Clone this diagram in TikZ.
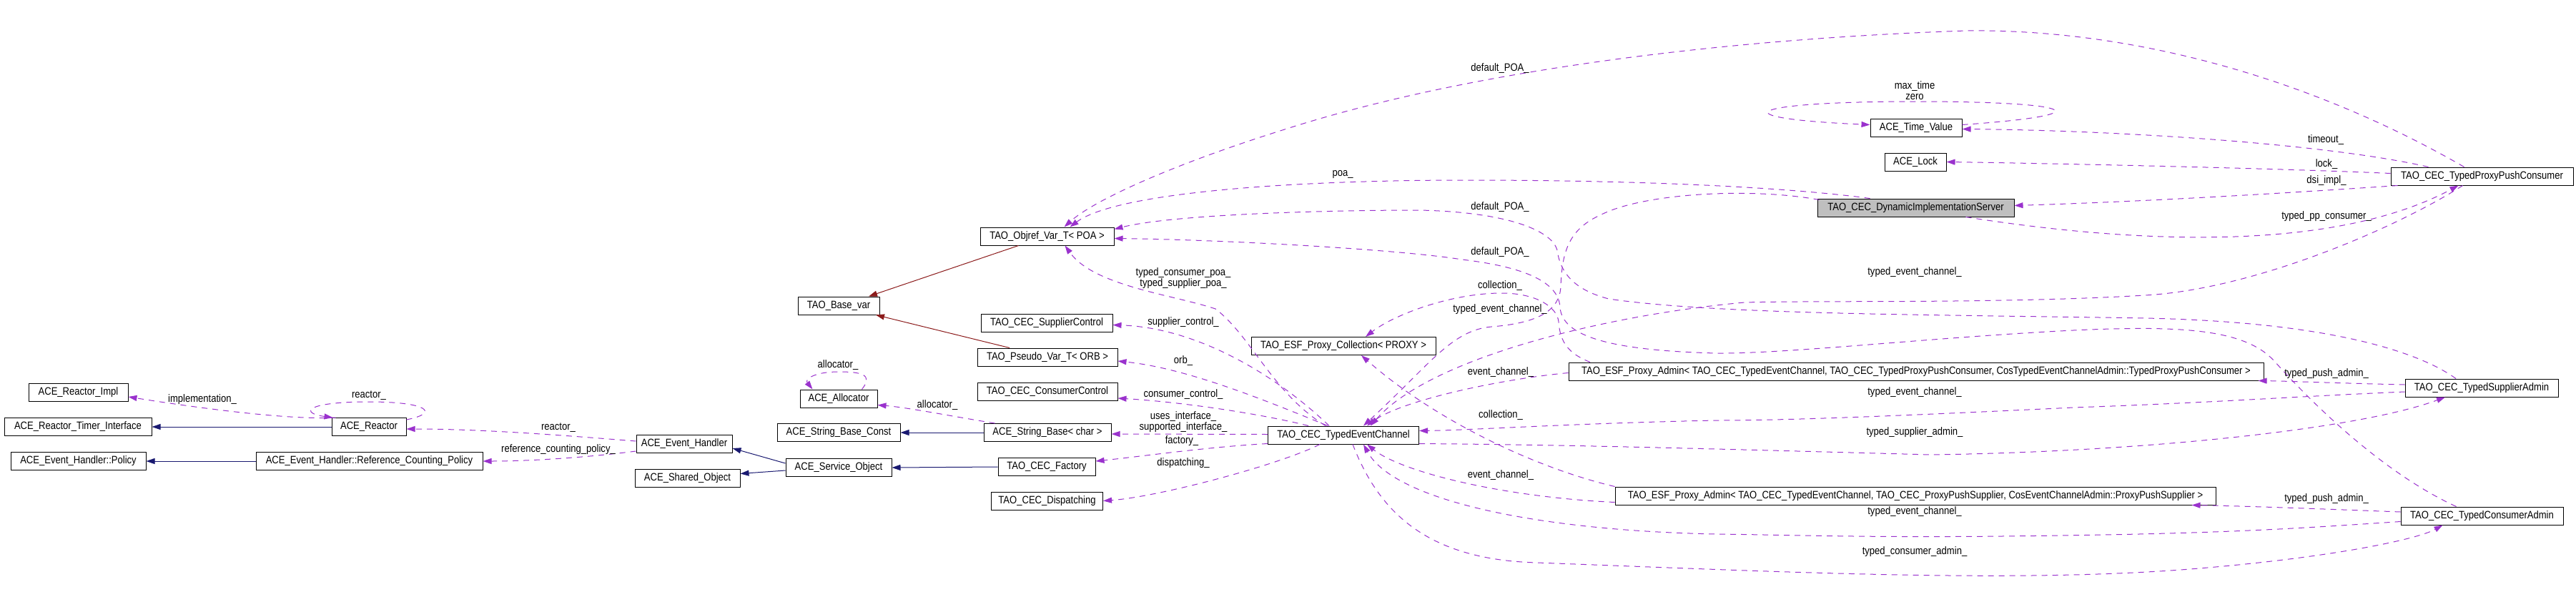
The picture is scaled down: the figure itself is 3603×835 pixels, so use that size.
\documentclass[tikz,border=0pt]{standalone}
\usepackage{fontspec}
\setmainfont{Liberation Sans}[FakeStretch=0.87]
\usetikzlibrary{arrows.meta}
\definecolor{depc}{HTML}{9A32CD}
\definecolor{pubc}{HTML}{191970}
\definecolor{privc}{HTML}{8B1A1A}
\definecolor{selc}{HTML}{BFBFBF}
\newcommand\lab{\fontsize{15}{15}\selectfont}
\tikzset{
  cls/.style={draw=black, line width=1pt, fill=white, minimum height=25pt, inner sep=0pt, font=\lab},
  dep/.style={draw=depc, line width=1pt, dash pattern=on 8pt off 7pt, -{Triangle[length=12pt,width=8pt,fill=depc]}},
  pub/.style={draw=pubc, line width=1pt, -{Triangle[length=12pt,width=8pt,fill=pubc]}},
  priv/.style={draw=privc, line width=1pt, -{Triangle[length=12pt,width=8pt,fill=privc]}},
  lbl/.style={font=\lab, inner sep=0pt, text=black, align=center}
}
\begin{document}
\begin{tikzpicture}[x=1pt,y=-1pt]
\useasboundingbox (0,0) rectangle (3603,835);
% ---------- nodes ----------
\node[cls, minimum width=139pt] (reactorimpl) at (109.5,549) {ACE\_Reactor\_Impl};
\node[cls, minimum width=206pt] (timerif) at (109,597) {ACE\_Reactor\_Timer\_Interface};
\node[cls, minimum width=104pt] (reactor) at (516,597) {ACE\_Reactor};
\node[cls, minimum width=189pt] (ehpolicy) at (109.5,645) {ACE\_Event\_Handler::Policy};
\node[cls, minimum width=317pt] (rcpolicy) at (516.5,645) {ACE\_Event\_Handler::Reference\_Counting\_Policy};
\node[cls, minimum width=134pt] (eh) at (957,621) {ACE\_Event\_Handler};
\node[cls, minimum width=147pt] (sharedobj) at (961.5,668.5) {ACE\_Shared\_Object};
\node[cls, minimum width=148pt] (serviceobj) at (1173,654) {ACE\_Service\_Object};
\node[cls, minimum width=108pt] (allocator) at (1173,557.5) {ACE\_Allocator};
\node[cls, minimum width=172pt] (sbconst) at (1173,605) {ACE\_String\_Base\_Const};
\node[cls, minimum width=114pt] (basevar) at (1173,427.5) {TAO\_Base\_var};
\node[cls, minimum width=187pt] (objref) at (1464.5,330.5) {TAO\_Objref\_Var\_T< POA >};
\node[cls, minimum width=184pt] (supctrl) at (1464,451.5) {TAO\_CEC\_SupplierControl};
\node[cls, minimum width=196pt] (pseudo) at (1465,499.5) {TAO\_Pseudo\_Var\_T< ORB >};
\node[cls, minimum width=196pt] (conctrl) at (1465,547.5) {TAO\_CEC\_ConsumerControl};
\node[cls, minimum width=178pt] (sbchar) at (1465,605) {ACE\_String\_Base< char >};
\node[cls, minimum width=136pt] (factory) at (1464,653) {TAO\_CEC\_Factory};
\node[cls, minimum width=156pt] (dispatching) at (1464.5,700.5) {TAO\_CEC\_Dispatching};
\node[cls, minimum width=258pt] (collection) at (1879,484) {TAO\_ESF\_Proxy\_Collection< PROXY >};
\node[cls, minimum width=211pt] (tec) at (1879,608.5) {TAO\_CEC\_TypedEventChannel};
\node[cls, minimum width=972pt] (esfcons) at (2680,519.5) {TAO\_ESF\_Proxy\_Admin< TAO\_CEC\_TypedEventChannel, TAO\_CEC\_TypedProxyPushConsumer, CosTypedEventChannelAdmin::TypedProxyPushConsumer >};
\node[cls, minimum width=840pt] (esfsupp) at (2679,693.5) {TAO\_ESF\_Proxy\_Admin< TAO\_CEC\_TypedEventChannel, TAO\_CEC\_ProxyPushSupplier, CosEventChannelAdmin::ProxyPushSupplier >};
\node[cls, minimum width=128pt] (timevalue) at (2680,178.5) {ACE\_Time\_Value};
\node[cls, minimum width=86pt] (lock) at (2679,226.5) {ACE\_Lock};
\node[cls, fill=selc, minimum width=275pt] (dsi) at (2679.5,290.5) {TAO\_CEC\_DynamicImplementationServer};
\node[cls, minimum width=255pt] (tppc) at (3471.5,246.5) {TAO\_CEC\_TypedProxyPushConsumer};
\node[cls, minimum width=214pt] (supadmin) at (3471,542.5) {TAO\_CEC\_TypedSupplierAdmin};
\node[cls, minimum width=227pt] (conadmin) at (3471.5,721.5) {TAO\_CEC\_TypedConsumerAdmin};
% ---------- inheritance ----------
\draw[pub] (reactor.west) -- (timerif.east);
\draw[pub] (rcpolicy.west) -- (ehpolicy.east);
\draw[pub] ([yshift=6pt]serviceobj.west) -- ([yshift=-6pt]eh.east);
\draw[pub] ([yshift=-4pt]serviceobj.west) -- ([yshift=6pt]sharedobj.east);
\draw[pub] (sbchar.west) -- (sbconst.east);
\draw[pub] (factory.west) -- (serviceobj.east);
\draw[priv] ([xshift=-40pt]objref.south) -- ([xshift=42pt]basevar.north);
\draw[priv] ([xshift=-53pt]pseudo.north) -- ([xshift=52pt]basevar.south);
% ---------- left usage ----------
\draw[dep] ([xshift=6pt]reactor.north west) .. controls (400,588) and (260,568) .. ([yshift=-6pt]reactorimpl.east);
\node[lbl] at (283,559) {implementation\_};
\draw[dep] ([yshift=-3pt]reactor.north east) .. controls (615,578) and (600,562) .. (516,562) .. controls (425,562) and (420,578) .. ([xshift=2pt]reactor.north west);
\node[lbl] at (516,553) {reactor\_};
\draw[dep] ([yshift=4pt]eh.west) .. controls (800,610) and (680,600) .. ([yshift=-3pt]reactor.east);
\node[lbl] at (781,598) {reactor\_};
\draw[dep] ([yshift=-10pt]eh.west) .. controls (820,640) and (740,645) .. (rcpolicy.east);
\node[lbl] at (781,629) {reference\_counting\_policy\_};
\draw[dep] ([xshift=-22pt]allocator.north east) .. controls (1222,524) and (1205,520) .. (1173,520) .. controls (1140,520) and (1125,530) .. ([xshift=18pt]allocator.north west);
\node[lbl] at (1172,511) {allocator\_};
\draw[dep] ([xshift=16pt]sbchar.north west) .. controls (1330,582) and (1270,570) .. ([yshift=-9pt]allocator.east);
\node[lbl] at (1311,567) {allocator\_};
% ---------- TEC usage (left) ----------
\draw[dep] ([xshift=-25pt]tec.north) .. controls (1780,550) and (1750,470) .. (1700,432) .. controls (1640,412) and (1530,400) .. ([xshift=25pt]objref.south);
\node[lbl] at (1655,389) {typed\_consumer\_poa\_\\typed\_supplier\_poa\_};
\draw[dep] ([xshift=-20pt]tec.north) .. controls (1780,520) and (1670,458) .. ([yshift=-3pt]supctrl.east);
\node[lbl] at (1655,451) {supplier\_control\_};
\draw[dep] ([xshift=-22pt]tec.north) .. controls (1770,560) and (1660,515) .. ([yshift=-5.5pt]pseudo.east);
\node[lbl] at (1655,505) {orb\_};
\draw[dep] ([xshift=-49pt]tec.north) .. controls (1760,578) and (1650,562) .. ([yshift=-9.5pt]conctrl.east);
\node[lbl] at (1655,552) {consumer\_control\_};
\draw[dep] ([yshift=1pt]tec.west) -- ([yshift=-2pt]sbchar.east);
\node[lbl] at (1655,590) {uses\_interface\_\\supported\_interface\_};
\draw[dep] ([yshift=-12pt]tec.west) .. controls (1690,625) and (1600,638) .. ([yshift=8pt]factory.east);
\node[lbl] at (1653,617) {factory\_};
\draw[dep] ([xshift=-33pt]tec.south) .. controls (1790,650) and (1620,695) .. (dispatching.east);
\node[lbl] at (1655,648) {dispatching\_};
% ---------- POA edges ----------
\draw[dep] ([xshift=-64pt]dsi.north) .. controls (2500,262) and (2300,252) .. (2050,252) .. controls (1800,252) and (1560,270) .. ([xshift=32pt]objref.north);
\node[lbl] at (1878,244) {poa\_};
\draw[dep] ([xshift=-25pt]tppc.north) .. controls (3250,120) and (3000,40) .. (2750,43) .. controls (2400,55) and (2050,100) .. (1800,180) .. controls (1640,230) and (1530,280) .. ([xshift=24pt]objref.north);
\node[lbl] at (2098,96) {default\_POA\_};
\draw[dep] ([xshift=-36pt]supadmin.north) .. controls (3380,490) and (3250,450) .. (3000,445) .. controls (2700,440) and (2400,440) .. (2250,418) .. controls (2200,405) and (2182,380) .. (2178,350) .. controls (2170,320) and (2100,296) .. (1984,294) .. controls (1850,294) and (1640,300) .. ([yshift=10pt]objref.east);
\node[lbl] at (2098,290) {default\_POA\_};
\draw[dep] ([xshift=-36pt]conadmin.north) .. controls (3330,660) and (3230,560) .. (3181,505) .. controls (3140,460) and (3050,455) .. (2900,462) .. controls (2700,472) and (2500,495) .. (2400,494) .. controls (2250,490) and (2185,470) .. (2182,430) .. controls (2180,390) and (2120,372) .. (2045,363) .. controls (1950,348) and (1700,335) .. ([yshift=-3pt]objref.east);
\node[lbl] at (2098,353) {default\_POA\_};
% ---------- collection / event channel ----------
\draw[dep] ([xshift=-456pt]esfcons.north) .. controls (2195,495) and (2182,480) .. (2180,450) .. controls (2178,430) and (2150,410) .. (2100,410) .. controls (2030,410) and (1950,440) .. ([xshift=31pt]collection.north);
\node[lbl] at (2098,400) {collection\_};
\draw[dep] ([xshift=3pt,yshift=-2pt]dsi.north west) .. controls (2450,262) and (2300,270) .. (2240,300) .. controls (2195,320) and (2185,350) .. (2183,400) .. controls (2182,435) and (2150,452) .. (2086,457) .. controls (2030,462) and (2000,510) .. ([xshift=28pt]tec.north);
\node[lbl] at (2098,433) {typed\_event\_channel\_};
\draw[dep] ([xshift=-27pt]tppc.south) .. controls (3350,320) and (3150,405) .. (3000,413) .. controls (2800,425) and (2550,420) .. (2440,423) .. controls (2250,440) and (2000,500) .. ([xshift=38pt]tec.north);
\node[lbl] at (2678,381) {typed\_event\_channel\_};
\draw[dep] ([yshift=-2pt]esfcons.west) .. controls (2100,530) and (1960,560) .. ([xshift=33pt]tec.north);
\node[lbl] at (2099,521) {event\_channel\_};
\draw[dep] (esfsupp.north west) .. controls (2150,655) and (2010,590) .. ([xshift=25pt]collection.south);
\node[lbl] at (2099,581) {collection\_};
\draw[dep] ([yshift=-9pt]esfsupp.west) .. controls (2100,695) and (1960,660) .. ([xshift=33pt]tec.south);
\node[lbl] at (2099,665) {event\_channel\_};
% ---------- TPPC ----------
\draw[dep] ([xshift=-75pt]tppc.north) .. controls (3250,200) and (2950,182) .. ([yshift=-2pt]timevalue.east);
\node[lbl] at (3253,196) {timeout\_};
\draw[dep] ([yshift=4pt]tppc.west) .. controls (3200,236) and (2900,229) .. (lock.east);
\node[lbl] at (3254,230) {lock\_};
\draw[dep] ([xshift=10pt]tppc.south west) .. controls (3200,270) and (3000,282) .. ([yshift=3pt]dsi.east);
\node[lbl] at (3254,253) {dsi\_impl\_};
\draw[dep] ([xshift=70pt]dsi.south) .. controls (2950,335) and (3250,360) .. ([xshift=-33pt]tppc.south);
\node[lbl] at (3254,303) {typed\_pp\_consumer\_};
\draw[dep] ([yshift=4pt]timevalue.east) .. controls (2950,160) and (2900,142) .. (2680,142) .. controls (2440,142) and (2400,165) .. ([yshift=4pt]timevalue.west);
\node[lbl] at (2678,127) {max\_time\\zero};
% ---------- admins ----------
\draw[dep] ([yshift=-5.5pt]supadmin.west) .. controls (3200,555) and (3100,563) .. (2900,570) .. controls (2650,582) and (2500,588) .. (2400,588) .. controls (2200,592) and (2050,602) .. ([yshift=6pt]tec.east);
\node[lbl] at (2678,549) {typed\_event\_channel\_};
\draw[dep] ([yshift=-12pt]tec.east) .. controls (2200,622) and (2400,628) .. (2700,636) .. controls (3000,632) and (3300,600) .. ([xshift=-51pt]supadmin.south);
\node[lbl] at (2678,605) {typed\_supplier\_admin\_};
\draw[dep] ([yshift=4.5pt]supadmin.west) .. controls (3270,536) and (3200,533) .. ([xshift=-8pt]esfcons.south east);
\node[lbl] at (3254,523) {typed\_push\_admin\_};
\draw[dep] ([yshift=-8pt]conadmin.west) .. controls (3200,740) and (3100,747) .. (2800,750) .. controls (2600,752) and (2500,748) .. (2400,747) .. controls (2150,742) and (1950,700) .. ([xshift=28pt]tec.south);
\node[lbl] at (2678,716) {typed\_event\_channel\_};
\draw[dep] ([xshift=13pt]tec.south) .. controls (1930,720) and (2000,783) .. (2150,787) .. controls (2500,800) and (2800,815) .. (3050,797) .. controls (3250,782) and (3380,755) .. ([xshift=-55pt]conadmin.south);
\node[lbl] at (2678,772) {typed\_consumer\_admin\_};
\draw[dep] ([yshift=5.5pt]conadmin.west) .. controls (3250,712) and (3150,708) .. ([xshift=-34pt]esfsupp.south east);
\node[lbl] at (3254,698) {typed\_push\_admin\_};
\end{tikzpicture}
\end{document}
